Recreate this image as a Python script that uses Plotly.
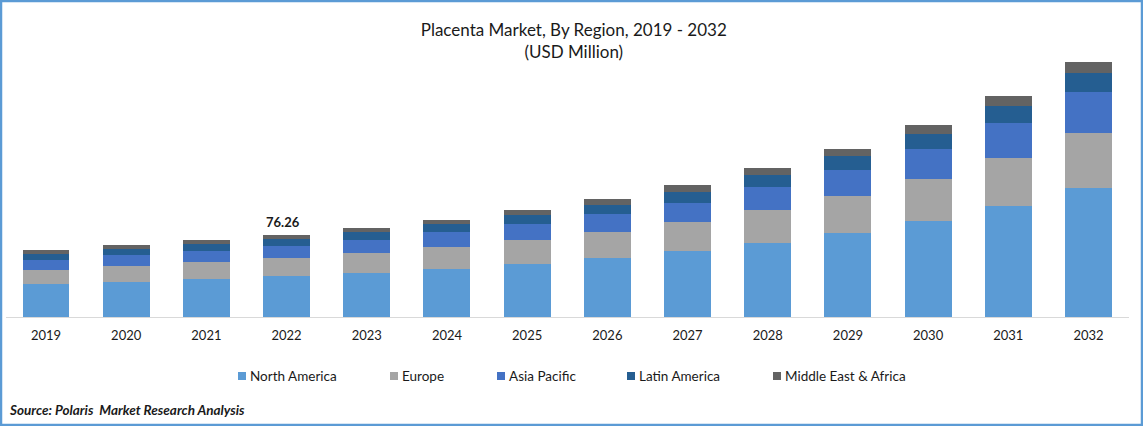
#!/bin/env python3

import plotly.graph_objects as go


main_title = "Placenta Market, By Region, 2019 - 2032<br>(USD Million)"
source_note = "Source: Polaris  Market Research Analysis"
font_name = "Lato"
width = 1143
height = 426

years = ["2019", "2020", "2021", "2022", "2023", "2024", "2025", "2026", "2027", "2028", "2029", "2030", "2031", "2032"]
north_america = [30.7, 32.6, 35.3, 38.1, 40.9, 44.6, 49.3, 54.9, 61.4, 68.8, 78.1, 89.3, 103.2, 120.0]
europe = [13.0, 14.9, 15.8, 16.7, 18.6, 20.5, 22.3, 24.2, 27.0, 30.7, 34.4, 39.1, 44.6, 51.2]
asia_pacific = [9.3, 10.2, 10.2, 11.2, 12.1, 14.0, 14.9, 16.7, 17.7, 21.4, 24.2, 27.9, 32.6, 38.1]
latin_america = [5.6, 5.6, 6.5, 6.5, 7.4, 7.4, 8.4, 8.4, 10.2, 11.2, 13.0, 14.0, 15.8, 17.7]
middle_east = [3.7, 3.7, 3.7, 3.76, 3.7, 3.7, 4.7, 5.6, 6.5, 6.5, 6.5, 8.4, 9.3, 10.2]
labelled_year = "2022"
labelled_total = 76.26

regions = ["North America", "Europe", "Asia Pacific", "Latin America", "Middle East & Africa"]
colors = ["#5B9BD5", "#A5A5A5", "#4472C4", "#255E91", "#636363"]


def px_x(x):
    return x / width


def px_y(y):
    return 1 - y / height


def do_figure():
    fig = go.Figure()
    fig.update_layout(
        title=dict(text=main_title, x=0.502, xanchor="center", y=px_y(36), yanchor="top",
                   font={"family": font_name, "color": "#1a1a1a", "size": 17}, automargin=False),
        barmode='stack',
        bargap=0.414,
        width=width,
        height=height,
        margin=dict(l=0, r=0, t=0, b=0, autoexpand=False),
        paper_bgcolor="white",
        plot_bgcolor="white",
        showlegend=False,
        font={"family": font_name, "color": "#1a1a1a", "size": 13},
    )
    for region, values, color in zip(regions, [north_america, europe, asia_pacific, latin_america, middle_east], colors):
        fig.add_trace(go.Bar(
            x=years,
            y=values,
            name=region,
            marker=dict(color=color, line_width=0),
        ))

    fig.update_xaxes(domain=[px_x(5.9), px_x(1128.6)], type="category", range=[-0.5, len(years) - 0.5], showgrid=False,
                     showline=True, linecolor="#D9D9D9", linewidth=1,
                     ticks="outside", ticklen=6, tickcolor="white", tickfont_size=13)
    fig.update_yaxes(domain=[px_y(317.3), px_y(40)], range=[0, 257.9], visible=False)

    # the value over one bar
    fig.add_annotation(x=years.index(labelled_year), y=labelled_total, text=f"<b>{labelled_total}</b>", showarrow=False,
                       yanchor="bottom", xshift=-4, yshift=3, font_size=13)

    # legend row, spaced like the original instead of plotly's own squares
    left = [238, 390, 497, 627, 773]
    for region, color, x in zip(regions, colors, left):
        fig.add_shape(type="rect", xref="paper", yref="paper", x0=px_x(x), x1=px_x(x + 8),
                      y0=px_y(380), y1=px_y(372), fillcolor=color, line_width=0)
        fig.add_annotation(xref="paper", yref="paper", x=px_x(x + 10), y=px_y(376), text=region,
                           showarrow=False, xanchor="left", yanchor="middle", font_size=13.5)

    fig.add_annotation(xref="paper", yref="paper", x=px_x(7), y=px_y(410), text=f"<b><i>{source_note}</i></b>",
                       showarrow=False, xanchor="left", yanchor="middle", font_size=13.5)

    # blue frame round the whole picture
    fig.add_shape(type="rect", xref="paper", yref="paper", x0=px_x(1), x1=px_x(1142), y0=px_y(425), y1=px_y(1),
                  line=dict(color="#5B9BD5", width=2.5))
    return fig


def main():
    print("Generating figure...")
    fig = do_figure()
    fig.write_html("out.html", config={"displayModeBar": False},
                   post_script="document.body.style.margin='0';")


if __name__ == "__main__":
    main()
    print("Done.")
